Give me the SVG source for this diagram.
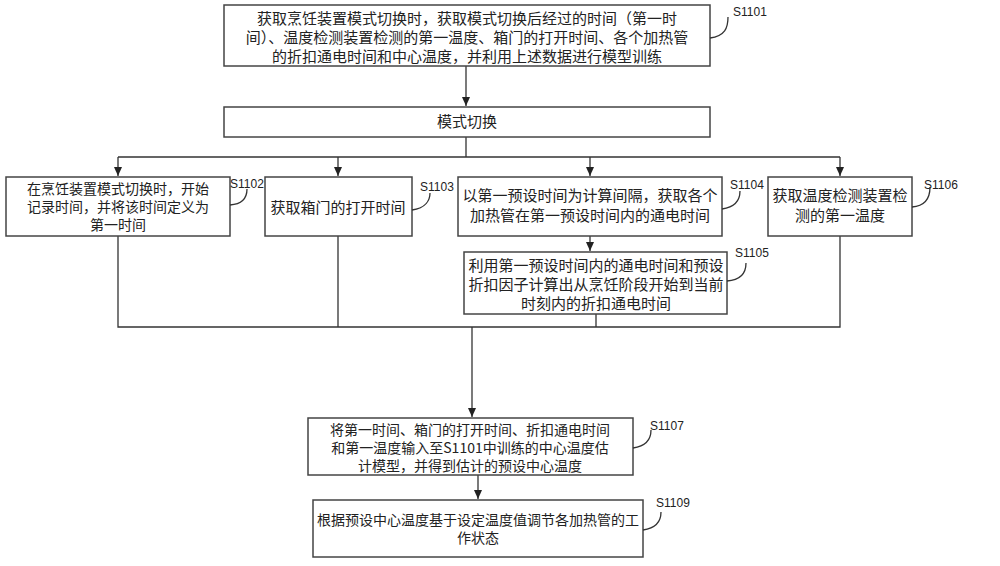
<svg xmlns="http://www.w3.org/2000/svg" width="1000" height="566" viewBox="0 0 1000 566">
<defs><marker id="a" markerWidth="10" markerHeight="10" refX="9" refY="5" orient="auto" markerUnits="userSpaceOnUse"><path d="M0,1 L9,5 L0,9 Z" fill="#222"/></marker>
<style>
rect{fill:#fff;stroke:#444;stroke-width:1.5}
text{font-family:"Noto Sans CJK SC","Liberation Sans",sans-serif;font-size:15px;fill:#222;text-anchor:middle}
.s{font-size:14px}
.l{font-family:"Liberation Sans",sans-serif;font-size:12px;text-anchor:start}
.c path,.k{fill:none;stroke:#333;stroke-width:1.3}
.c .ar{marker-end:url(#a)}
</style></defs>
<rect width="1000" height="566" style="fill:#fff;stroke:none"/>
<g class="c">
<path class="ar" d="M466,66 V106"/>
<path d="M466,137 V157 M118,157 H840"/>
<path class="ar" d="M118,157 V176"/><path class="ar" d="M338,157 V176"/><path class="ar" d="M590,157 V176"/><path class="ar" d="M840,157 V176"/>
<path class="ar" d="M590,236 V251"/>
<path d="M118,236 V327 H840 V236 M338,236 V327 M596,314 V327"/>
<path class="ar" d="M472,327 V417"/>
<path class="ar" d="M478,475 V499"/>
</g>
<g id="s1101"><rect x="224" y="5" width="486" height="61"/><text x="467" y="24">获取烹饪装置模式切换时，获取模式切换后经过的时间（第一时</text><text x="467" y="43">间）、温度检测装置检测的第一温度、箱门的打开时间、各个加热管</text><text x="467" y="62">的折扣通电时间和中心温度，并利用上述数据进行模型训练</text><path class="k" d="M710,38 C725,36 728,28 728,17"/><text class="l" x="733" y="16">S1101</text></g>
<g id="mode"><rect x="224" y="107" width="486" height="30"/><text x="467" y="127">模式切换</text></g>
<g id="s1102"><rect x="6" y="177" width="224" height="59"/><text class="s" x="118" y="194">在烹饪装置模式切换时，开始</text><text class="s" x="118" y="212">记录时间，并将该时间定义为</text><text class="s" x="118" y="230">第一时间</text><path class="k" d="M230,205 C244,204 247,196 247,189"/><text class="l" x="230" y="188">S1102</text></g>
<g id="s1103"><rect x="265" y="177" width="147" height="59"/><text x="338" y="213">获取箱门的打开时间</text><path class="k" d="M412,210 C426,208 430,200 430,193"/><text class="l" x="420" y="191">S1103</text></g>
<g id="s1104"><rect x="458" y="177" width="264" height="59"/><text x="590" y="201">以第一预设时间为计算间隔，获取各个</text><text x="590" y="221">加热管在第一预设时间内的通电时间</text><path class="k" d="M722,209 C736,207 740,199 740,191"/><text class="l" x="730" y="189">S1104</text></g>
<g id="s1105"><rect x="464" y="252" width="263" height="62"/><text x="596" y="271">利用第一预设时间内的通电时间和预设</text><text x="596" y="290">折扣因子计算出从烹饪阶段开始到当前</text><text x="596" y="309">时刻内的折扣通电时间</text><path class="k" d="M727,281 C742,280 746,272 746,263"/><text class="l" x="735" y="257">S1105</text></g>
<g id="s1106"><rect x="768" y="177" width="144" height="59"/><text x="840" y="201">获取温度检测装置检</text><text x="840" y="221">测的第一温度</text><path class="k" d="M912,207 C926,206 930,198 930,187"/><text class="l" x="924" y="189">S1106</text></g>
<g id="s1107"><rect x="308" y="418" width="325" height="57"/><text class="s" x="470" y="435">将第一时间、箱门的打开时间、折扣通电时间</text><text class="s" x="470" y="453">和第一温度输入至S1101中训练的中心温度估</text><text class="s" x="470" y="471">计模型，并得到估计的预设中心温度</text><path class="k" d="M633,448 C647,446 651,438 651,430"/><text class="l" x="650" y="430">S1107</text></g>
<g id="s1109"><rect x="313" y="500" width="330" height="57"/><text class="s" x="478" y="525">根据预设中心温度基于设定温度值调节各加热管的工</text><text class="s" x="478" y="543">作状态</text><path class="k" d="M643,530 C657,528 661,520 661,512"/><text class="l" x="656" y="507">S1109</text></g>
</svg>
